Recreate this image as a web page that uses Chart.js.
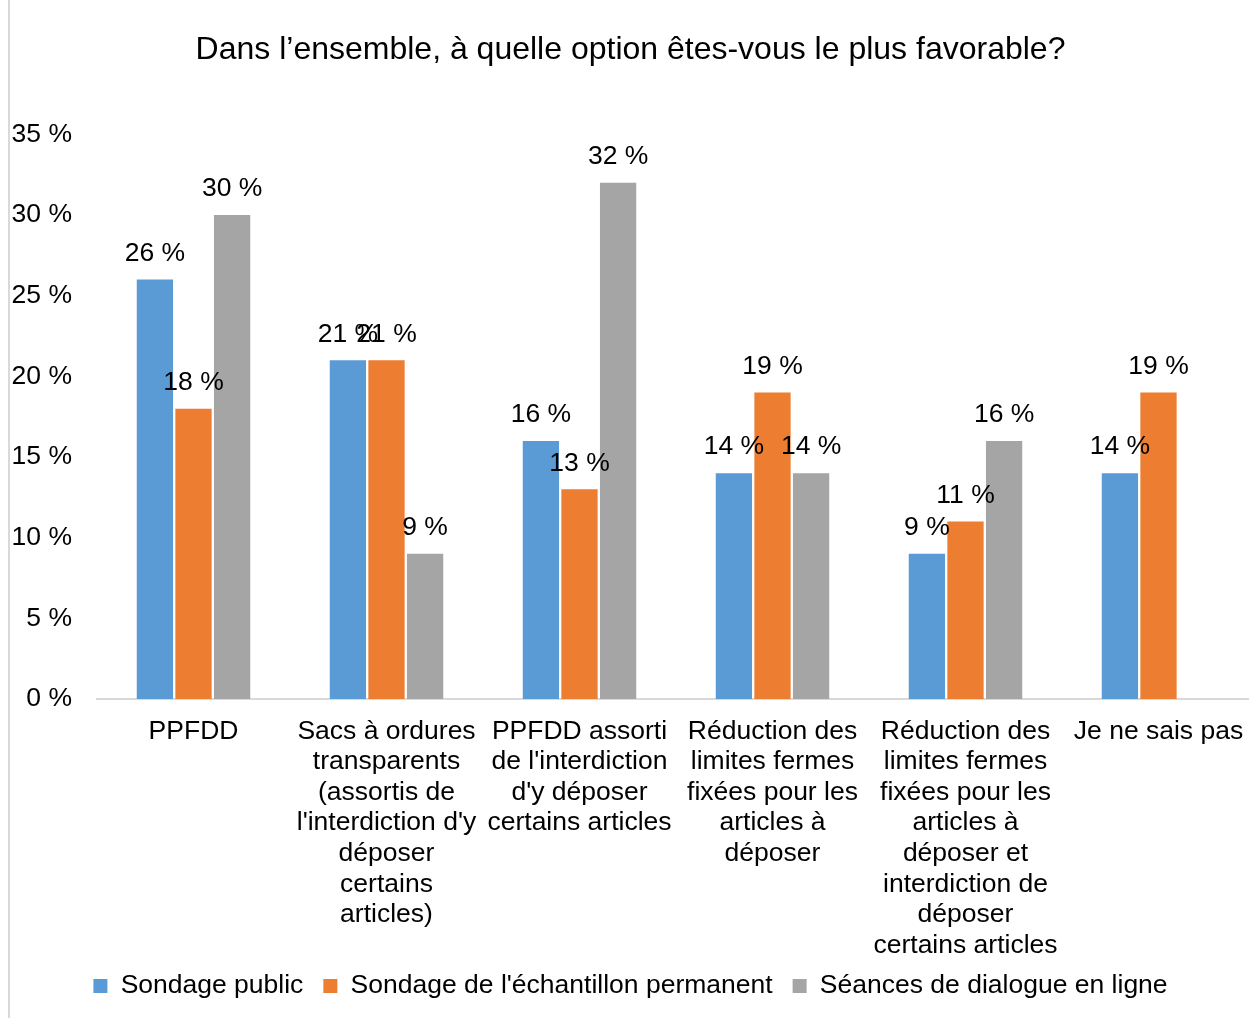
<!DOCTYPE html>
<html>
<head>
<meta charset="utf-8">
<script src="https://cdn.jsdelivr.net/npm/chart.js@4/dist/chart.umd.min.js"></script>
<style>
  html, body { margin: 0; padding: 0; background: #fff; }
  #wrap { position: relative; width: 1249px; height: 1018px; }
  #edge { position: absolute; left: 8px; top: 0; width: 2px; height: 1018px; background: #d9d9d9; }
</style>
</head>
<body>
<div id="wrap">
  <div id="edge"></div>
  <canvas id="chart" width="1249" height="1018"></canvas>
</div>
<script>
// donnees du graphique
const categories = [
  'PPFDD',
  ['Sacs à ordures', 'transparents', '(assortis de', "l'interdiction d'y", 'déposer', 'certains', 'articles)'],
  ['PPFDD assorti', "de l'interdiction", "d'y déposer", 'certains articles'],
  ['Réduction des', 'limites fermes', 'fixées pour les', 'articles à', 'déposer'],
  ['Réduction des', 'limites fermes', 'fixées pour les', 'articles à', 'déposer et', 'interdiction de', 'déposer', 'certains articles'],
  'Je ne sais pas'
];
const seriesNames = ['Sondage public', "Sondage de l'échantillon permanent", 'Séances de dialogue en ligne'];
const sondagePublic = [26, 21, 16, 14, 9, 14];
const echantillon = [18, 21, 13, 19, 11, 19];
const dialogue = [30, 9, 32, 14, 16, null];
const yTicks = [0, 5, 10, 15, 20, 25, 30, 35];

const FONT = "'Liberation Sans', Arial, sans-serif";
const FS = 26.5;
Chart.defaults.font.family = FONT;
Chart.defaults.color = '#000';

// etiquettes au-dessus des barres
const barLabels = {
  id: 'barLabels',
  afterLayout(chart) {
    // l'axe x deborde un peu a droite, et place pour les libelles longs
    const x = chart.scales.x;
    x.right += 6;
    x.width += 6;
    x.bottom += 30;
    x.configure();
  },
  afterDatasetsDraw(chart) {
    const ctx = chart.ctx;
    ctx.save();
    ctx.font = FS + 'px ' + FONT;
    ctx.fillStyle = '#000';
    ctx.textAlign = 'center';
    ctx.textBaseline = 'middle';
    chart.data.datasets.forEach((ds, i) => {
      const meta = chart.getDatasetMeta(i);
      meta.data.forEach((bar, j) => {
        const v = ds.data[j];
        if (v === null || v === undefined) return;
        ctx.fillText(v + ' %', bar.x, bar.y - 26);
      });
    });
    ctx.restore();
  }
};

new Chart(document.getElementById('chart').getContext('2d'), {
  type: 'bar',
  data: {
    labels: categories,
    datasets: [
      { label: seriesNames[0], data: sondagePublic, backgroundColor: '#5B9BD5' },
      { label: seriesNames[1], data: echantillon, backgroundColor: '#ED7D31' },
      { label: seriesNames[2], data: dialogue, backgroundColor: '#A5A5A5' }
    ]
  },
  options: {
    responsive: false,
    animation: false,
    layout: { padding: { left: 12, right: 0, top: 0, bottom: 8.75 } },
    datasets: { bar: { categoryPercentage: 0.6, barPercentage: 0.94 } },
    scales: {
      x: {
        grid: { display: false },
        border: { display: true, color: '#d9d9d9', width: 2 },
        afterFit(axis) { axis.height = 253.75; },
        ticks: {
          autoSkip: false, maxRotation: 0, minRotation: 0, padding: 9,
          font: { size: FS, lineHeight: 1.155 }, color: '#000'
        }
      },
      y: {
        min: 0, max: 35,
        afterBuildTicks(axis) { axis.ticks = yTicks.map(v => ({ value: v })); },
        afterFit(axis) { axis.width = 85; },
        grid: { display: false, drawTicks: false },
        border: { display: false },
        ticks: {
          padding: 25, font: { size: FS }, color: '#000',
          callback: v => v + ' %'
        }
      }
    },
    plugins: {
      title: {
        display: true,
        text: 'Dans l’ensemble, à quelle option êtes-vous le plus favorable?',
        font: { size: 32, weight: 'normal' },
        color: '#000',
        padding: { top: 31, bottom: 65 }
      },
      legend: {
        position: 'bottom',
        labels: { boxWidth: 14, boxHeight: 14, padding: 20, font: { size: FS }, color: '#000' }
      },
      tooltip: { enabled: false }
    }
  },
  plugins: [barLabels]
});
</script>
</body>
</html>
